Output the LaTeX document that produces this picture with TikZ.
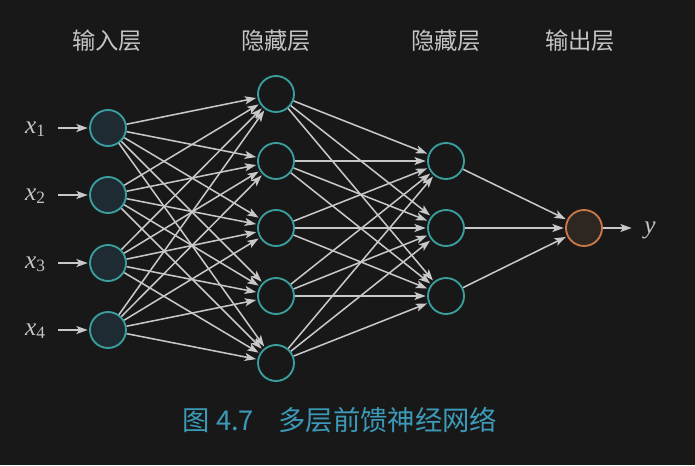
\documentclass[tikz,border=0pt]{standalone}
\usepackage{fontspec}
\newfontfamily\cjk{Noto Sans CJK SC}
\newfontfamily\lab{Liberation Serif}
\usetikzlibrary{arrows.meta}
\definecolor{bg}{HTML}{181818}
\definecolor{edgec}{HTML}{C8C8C8}
\definecolor{teal1}{HTML}{3A9E9E}
\definecolor{infill}{HTML}{1E2B32}
\definecolor{outdraw}{HTML}{C87A45}
\definecolor{outfill}{HTML}{2E2620}
\definecolor{capc}{HTML}{3C9AB8}
\definecolor{headc}{HTML}{C4C4C4}
\newcommand{\varx}[1]{{\lab\itshape x}\raisebox{-0.35ex}{\lab\fontsize{13}{14}\selectfont #1}}
\begin{document}
\begin{tikzpicture}[x=0.75pt,y=-0.75pt,
  neuron/.style={circle,draw=teal1,line width=1.4pt,minimum size=27pt,inner sep=0pt},
  inneuron/.style={neuron,fill=infill},
  outneuron/.style={circle,draw=outdraw,fill=outfill,line width=1.4pt,minimum size=27pt,inner sep=0pt},
  conn/.style={draw=edgec,line width=1.15pt,shorten >=1pt,-{Stealth[length=8.5pt,width=6pt,inset=2pt]}},
  head/.style={text=headc,font=\cjk\fontsize{17.5}{20}\selectfont},
  varlab/.style={text=headc,font=\fontsize{19}{22}\selectfont,inner sep=1pt}]
\fill[bg] (0,0) rectangle (695,465);
% headers
\node[head] (h1) at (107,41) {输入层};
\node[head] (h2) at (276,41) {隐藏层};
\node[head] (h3) at (446,41) {隐藏层};
\node[head] (h4) at (580,41) {输出层};
% input layer
\foreach \i/\y in {1/128,2/195,3/263,4/330}{
  \node[inneuron] (i\i) at (108,\y) {};
  \node[varlab,anchor=base] (x\i) at (35,\y+5) {\varx{\i}};
  \coordinate (s\i) at (58,\y);
  \draw[conn] (s\i) -- (i\i.west);
}
% hidden layer 1
\foreach \i/\y in {1/94,2/161,3/228,4/296,5/363}{
  \node[neuron] (a\i) at (276,\y) {};
}
% hidden layer 2
\foreach \i/\y in {1/161,2/228,3/296}{
  \node[neuron] (b\i) at (446,\y) {};
}
% output
\node[outneuron] (o) at (584,228) {};
\node[varlab,anchor=base] (yl) at (650,233) {{\lab\itshape y}};
\coordinate (ye) at (633,228);
\draw[conn] (o) -- (ye);
% connections
\foreach \i in {1,...,4}{\foreach \j in {1,...,5}{\draw[conn] (i\i) -- (a\j);}}
\foreach \i in {1,...,5}{\foreach \j in {1,...,3}{\draw[conn] (a\i) -- (b\j);}}
\foreach \i in {1,...,3}{\draw[conn] (b\i) -- (o);}
% caption
\node[text=capc,font=\cjk\fontsize{20.5}{24}\selectfont] (cap) at (340,420) {图 4.7\hspace{0.9em}多层前馈神经网络};
\end{tikzpicture}
\end{document}
